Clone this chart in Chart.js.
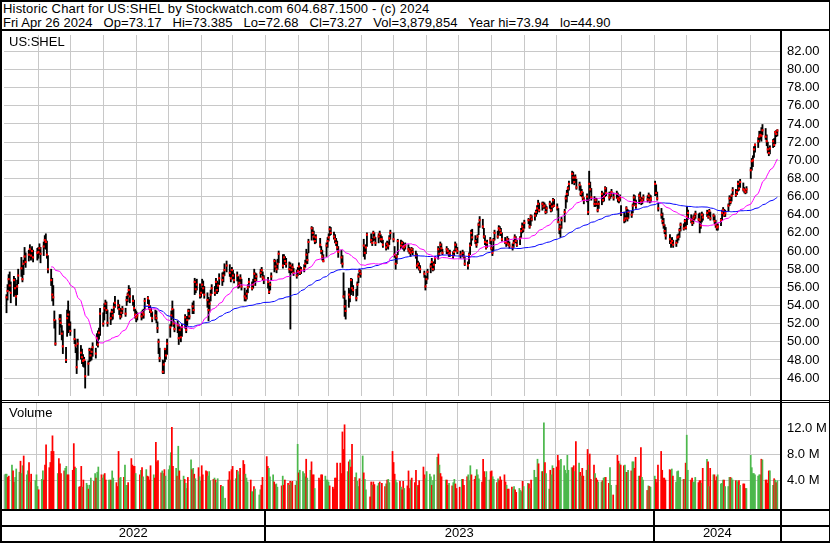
<!DOCTYPE html>
<html>
<head>
<meta charset="utf-8">
<title>US:SHEL historic chart</title>
<script src="https://cdn.jsdelivr.net/npm/chart.js"></script>
<style>
  html, body { margin: 0; padding: 0; background: #fff; }
  #wrap { position: relative; width: 830px; height: 543px; overflow: hidden;
          font-family: "Liberation Sans", Arial, sans-serif; color: #000; background: #fff; }
  #wrap canvas { position: absolute; left: 0; }
  .ln { position: absolute; background: #000; }
  .txt { position: absolute; font-size: 13px; line-height: 14px; white-space: pre; }
</style>
</head>
<body>
<div id="wrap">
  <canvas id="price" width="830" height="369" style="top:31px"></canvas>
  <canvas id="vol" width="830" height="106" style="top:403px"></canvas>
  <canvas id="years" width="830" height="31" style="top:511px"></canvas>

  <div class="txt" style="left:3px;top:2px;letter-spacing:0.18px">Historic Chart for US:SHEL by Stockwatch.com 604.687.1500 - (c) 2024</div>
  <div class="txt" style="left:3px;top:16px;letter-spacing:0.05px">Fri Apr 26 2024   Op=73.17   Hi=73.385   Lo=72.68   Cl=73.27   Vol=3,879,854   Year hi=73.94   lo=44.90</div>
  <div class="txt" style="left:9px;top:35px">US:SHEL</div>
  <div class="txt" style="left:9px;top:406px">Volume</div>

  <!-- frame -->
  <div class="ln" style="left:0;top:0;width:830px;height:2px"></div>
  <div class="ln" style="left:0;top:0;width:2px;height:543px"></div>
  <div class="ln" style="left:829px;top:0;width:1px;height:543px"></div>
  <div class="ln" style="left:0;top:29px;width:830px;height:2px"></div>
  <div class="ln" style="left:0;top:400px;width:830px;height:1px"></div>
  <div class="ln" style="left:0;top:402px;width:830px;height:1px"></div>
  <div class="ln" style="left:0;top:509px;width:830px;height:2px"></div>
  <div class="ln" style="left:0;top:525px;width:830px;height:2px"></div>
  <div class="ln" style="left:0;top:541px;width:830px;height:2px"></div>
  <div class="ln" style="left:780px;top:29px;width:2px;height:514px"></div>
</div>

<script>
// ---- data ----
const firstDay = '2022-05-02';
const lastDay = '2024-04-26';
// exchange holidays in the range (no bar on these weekdays)
const holidays = ['2022-05-30','2022-06-20','2022-07-04','2022-09-05','2022-11-24','2022-12-26',
  '2023-01-02','2023-01-16','2023-02-20','2023-04-07','2023-05-29','2023-06-19','2023-07-04',
  '2023-09-04','2023-11-23','2023-12-25','2024-01-01','2024-01-15','2024-02-19','2024-03-29'];

const years = ['2022', '2023', '2024'];
const priceTicks = [46, 48, 50, 52, 54, 56, 58, 60, 62, 64, 66, 68, 70, 72, 74, 76, 78, 80, 82];
const volTicks = [4, 8, 12];   // millions
const maShort = 30, maLong = 90;

// daily closes, one line per month
const closes = [
  54.9,55.6,56.9,56.2,55.4,56.8,55.9,55.0,56.1,57.3,58.1,56.9,58.6,59.4,58.8,59.6,60.2,59.5,60.0,59.3,59.8,
  59.9,60.3,59.7,60.5,61.2,61.0,59.6,58.0,56.8,55.2,54.9,52.4,49.8,52.5,52.1,50.9,49.5,48.0,52.6,53.0,51.9,
  51.2,50.3,49.6,47.2,49.8,48.8,48.3,47.9,48.0,46.2,47.6,49.1,48.5,48.9,49.4,48.7,50.4,49.7,51.0,53.1,
  52.0,53.7,54.2,53.5,52.1,52.6,53.3,52.9,53.8,54.3,54.0,53.6,52.8,53.2,53.6,53.1,54.6,55.2,55.7,55.0,54.5,53.7,53.0,
  52.7,52.9,52.8,53.2,53.0,54.5,54.8,54.0,53.5,53.3,52.6,52.9,52.6,51.5,50.0,48.2,46.7,47.5,49.2,48.5,49.8,
  51.6,52.9,53.6,52.0,51.4,51.8,50.4,51.3,50.5,51.6,52.7,51.3,52.4,53.4,52.8,53.9,53.5,56.6,55.8,56.3,55.1,
  55.4,56.3,55.9,55.2,54.6,53.5,54.2,55.2,55.9,55.4,56.6,55.7,56.2,57.0,56.8,57.3,57.9,58.4,57.6,57.0,57.9,
  57.3,56.8,57.3,56.2,56.5,57.0,56.1,55.0,54.8,55.3,56.0,56.6,55.9,56.3,57.5,56.8,57.2,57.6,57.9,57.1,56.9,
  56.6,55.5,56.3,57.2,58.9,58.3,58.0,58.6,59.7,58.4,59.3,58.9,58.6,58.0,58.4,57.9,58.2,57.6,57.3,57.8,
  58.3,57.6,57.9,58.1,58.6,59.6,59.0,61.0,62.5,62.0,61.6,61.1,61.5,60.7,60.0,59.4,58.9,60.6,61.1,
  61.5,62.4,62.0,61.6,61.3,60.9,60.4,59.9,59.3,58.6,55.0,53.9,53.4,55.2,54.9,56.8,55.9,55.7,54.8,56.3,57.2,57.8,57.5,
  60.6,59.8,60.4,61.8,61.2,60.9,62.0,61.5,60.9,61.6,61.9,61.3,61.3,60.7,60.4,60.8,60.6,61.4,62.0,
  61.3,59.6,58.6,59.4,61.1,60.6,60.9,60.5,60.4,60.6,60.2,60.0,59.8,60.2,59.9,59.5,58.4,58.6,58.2,58.0,57.5,56.1,
  56.9,57.7,58.3,58.8,58.0,58.5,59.2,60.2,59.7,60.7,60.3,59.8,60.2,60.0,59.7,59.8,59.5,59.9,60.7,60.2,60.0,
  59.6,59.8,59.4,58.6,58.4,59.6,60.6,62.0,61.5,61.1,60.7,61.6,62.9,63.4,62.7,61.6,61.0,60.4,60.9,61.2,
  60.3,59.8,61.2,62.0,61.6,62.5,62.3,62.0,61.3,61.0,60.9,61.3,60.8,60.6,60.4,60.9,61.5,61.1,60.7,61.4,62.2,62.7,62.4,
  63.1,63.4,62.7,63.8,63.5,63.9,64.3,64.7,65.2,64.5,65.2,64.9,65.0,64.3,64.7,65.2,64.5,64.9,65.6,65.0,
  64.8,63.2,62.4,62.7,63.4,64.3,65.8,66.3,66.9,67.4,68.5,68.1,67.6,68.1,67.0,67.3,66.3,66.5,65.9,65.6,66.0,64.3,
  67.4,66.8,65.9,65.2,65.6,65.2,64.5,65.2,66.3,65.6,66.0,66.9,66.4,65.9,66.2,66.5,65.9,66.3,65.8,65.6,65.9,
  64.2,63.4,63.6,64.7,63.6,64.3,64.0,65.0,65.9,65.4,65.0,66.1,65.8,65.4,65.6,65.9,65.7,66.1,65.6,65.8,
  67.4,66.4,65.8,64.7,64.0,63.3,62.9,62.2,61.7,61.3,60.9,61.1,60.7,60.9,61.5,61.6,62.3,62.9,62.5,63.3,62.6,
  63.8,64.2,63.4,63.1,63.6,63.8,64.1,63.5,63.4,62.8,64.0,63.7,64.2,63.8,64.4,63.6,63.9,63.3,62.9,62.6,
  62.7,63.4,64.2,64.5,64.0,64.2,65.0,65.8,65.4,66.1,66.7,66.2,66.5,67.4,66.9,67.6,66.8,66.7,66.5,66.8,
  68.9,69.9,70.0,71.2,71.7,72.1,72.6,72.8,72.7,73.3,72.6,72.1,71.2,70.8,71.3,72.1,71.7,73.1,72.9,73.27
];

const highs = [
  55.2,56.3,57.4,57.7,56.6,57.2,57.0,56.3,56.8,58.0,59.3,58.4,59.0,60.4,59.8,60.1,60.7,60.3,60.5,60.1,60.3,
  60.4,60.8,60.4,61.0,61.7,61.9,61.1,59.5,58.0,57.0,56.2,53.4,52.4,53.0,53.0,51.8,51.2,49.4,53.5,54.5,53.4,
  52.2,51.4,50.3,49.3,50.3,49.6,49.2,48.6,48.3,47.9,47.9,49.3,49.2,49.3,49.9,49.3,50.9,51.2,51.5,53.7,
  53.2,54.2,54.6,54.4,53.5,53.2,53.6,53.5,54.3,55.0,54.6,54.1,53.7,53.6,53.9,53.7,55.0,55.4,56.2,55.9,55.1,54.6,53.6,
  53.4,53.2,53.3,53.5,53.6,54.8,55.0,54.6,54.0,53.7,53.3,53.5,53.4,52.2,50.3,49.3,48.0,47.9,49.3,49.2,50.3,
  51.9,53.4,54.5,53.6,52.2,52.3,51.9,51.7,51.4,51.9,53.0,52.8,52.8,53.6,53.6,54.3,54.5,57.0,56.8,56.9,56.4,
  55.9,56.9,56.7,56.1,55.4,54.9,54.7,55.7,56.3,56.1,57.0,56.7,56.5,57.5,57.6,57.7,58.6,58.9,58.5,57.8,58.2,
  57.9,57.5,57.7,57.2,56.9,57.4,56.9,55.9,55.4,55.7,56.3,57.0,56.6,56.9,58.0,57.6,57.5,58.0,58.2,57.7,57.3,
  57.1,56.4,56.6,57.6,59.1,59.0,58.6,59.1,60.0,59.6,59.6,59.4,59.2,58.8,58.7,58.4,58.6,58.1,57.9,58.2,
  58.7,58.3,58.2,58.5,59.0,60.2,59.8,61.3,62.7,62.6,62.2,61.7,61.8,61.4,60.5,60.1,59.6,60.9,61.5,
  61.9,62.7,62.6,62.1,61.8,61.4,61.1,60.5,60.1,59.5,57.6,55.6,54.6,55.9,55.7,57.0,56.9,56.2,55.8,56.6,57.5,58.0,57.9,
  61.3,60.5,60.7,62.0,61.9,61.4,62.2,62.0,61.5,61.9,62.2,61.8,61.6,61.2,60.9,61.1,61.0,61.7,62.3,
  62.0,60.5,59.4,59.6,61.3,61.2,61.1,61.0,60.8,60.9,60.7,60.4,60.2,60.4,60.3,60.0,59.7,58.9,58.7,58.4,57.8,57.3,
  57.2,58.0,58.6,59.2,58.8,58.8,59.4,60.5,60.3,61.0,60.8,60.2,60.5,60.3,60.1,60.1,59.9,60.1,61.0,60.8,60.4,
  60.0,60.1,59.9,59.3,58.8,59.8,60.9,62.3,62.4,61.7,61.3,61.8,63.1,63.8,63.5,62.5,61.7,61.1,61.2,61.5,
  61.1,60.4,61.4,62.3,62.2,62.8,62.7,62.5,62.0,61.5,61.2,61.6,61.4,61.0,60.8,61.2,61.8,61.6,61.2,61.6,62.5,63.1,62.9,
  63.4,63.6,63.5,64.0,63.9,64.2,64.5,65.0,65.6,65.3,65.4,65.4,65.3,65.1,64.9,65.5,65.3,65.2,65.8,65.7,
  65.2,64.7,63.0,62.9,63.7,64.6,66.1,66.7,67.1,67.7,68.8,68.7,68.3,68.4,67.9,67.6,67.2,66.8,66.5,65.9,66.3,65.7,
  68.8,67.6,66.9,66.0,65.8,65.8,65.3,65.5,66.6,66.4,66.3,67.1,67.0,66.5,66.5,66.8,66.4,66.6,66.4,66.1,66.2,
  65.0,64.3,63.9,64.9,64.6,64.5,64.4,65.2,66.2,66.1,65.6,66.3,66.5,65.9,65.8,66.2,66.1,66.4,66.2,66.1,
  67.7,67.3,66.5,65.3,64.7,64.2,63.6,62.9,62.6,61.8,61.4,61.5,61.2,61.2,61.8,61.9,62.5,63.1,63.0,63.5,63.4,
  64.9,64.5,64.0,63.6,63.9,64.1,64.4,64.1,64.2,63.4,64.3,64.1,64.5,64.3,64.6,64.3,64.1,63.9,63.4,63.0,
  63.0,63.6,64.5,64.8,64.6,64.5,65.2,66.1,66.0,66.3,67.0,66.8,66.7,67.7,67.5,67.9,67.5,67.0,66.8,67.1,
  69.2,70.2,70.5,71.5,71.8,72.5,73.2,73.2,73.6,73.94,73.5,72.8,72.0,71.4,71.6,72.3,72.4,73.2,73.3,73.385
];

const lows = [
  53.2,54.6,55.7,55.6,54.3,55.0,55.2,54.0,55.2,56.4,57.2,56.6,57.4,58.5,58.2,58.9,59.3,59.0,59.2,58.8,59.0,
  59.2,59.6,58.7,59.5,60.3,60.2,59.2,57.6,56.2,54.5,54.0,51.5,49.6,50.8,51.6,50.2,48.7,47.7,50.6,51.0,51.3,
  50.7,49.8,48.8,46.5,48.0,48.1,47.6,47.3,47.2,44.9,46.3,47.8,47.9,48.0,48.4,48.2,49.6,49.4,50.3,50.7,
  51.7,52.4,53.4,53.1,51.7,51.9,52.4,52.5,53.2,53.8,53.6,53.0,52.5,52.7,53.1,52.8,54.0,54.4,55.0,54.3,54.0,53.4,52.6,
  52.2,52.4,52.4,52.6,52.6,53.5,54.2,53.6,53.2,52.8,52.2,52.4,52.1,51.0,48.7,47.8,46.5,46.5,47.8,48.1,48.6,
  50.5,51.7,52.6,51.7,51.1,51.0,49.7,50.4,50.0,50.6,51.5,51.0,51.8,52.5,52.5,53.1,53.1,55.2,55.4,55.7,54.8,
  54.9,55.4,55.3,54.8,53.8,52.3,53.4,54.5,55.3,55.1,55.8,55.3,55.5,56.3,56.2,56.6,57.3,57.7,57.2,56.6,57.2,
  56.9,56.5,56.7,55.9,56.0,56.4,55.7,54.5,54.5,54.7,55.4,56.0,55.7,55.9,56.6,56.2,56.7,57.1,57.4,56.8,56.4,
  55.9,55.3,55.7,56.8,57.7,58.0,57.6,58.0,58.7,58.1,58.5,58.5,58.2,57.6,51.4,57.6,57.7,57.3,57.0,57.3,
  57.7,57.4,57.5,57.7,58.2,58.6,58.6,59.8,61.2,61.7,61.2,60.8,60.9,60.4,59.7,59.0,58.8,59.4,60.4,
  61.1,61.7,61.8,61.3,60.9,60.6,60.1,59.3,58.6,58.2,54.8,52.8,52.5,53.8,54.4,55.2,55.5,55.1,54.5,55.1,56.5,57.3,57.1,
  59.4,59.1,59.7,60.5,60.9,60.6,61.1,61.2,60.6,60.9,61.4,61.0,60.9,60.4,60.1,60.3,60.2,60.7,61.3,
  61.0,59.3,58.0,58.6,59.6,60.3,60.4,60.2,60.0,60.2,59.9,59.7,59.4,59.8,59.6,59.2,58.1,58.2,57.9,57.6,57.1,55.7,
  56.4,56.9,57.6,58.2,57.8,57.9,58.6,59.1,59.5,59.9,60.0,59.6,59.7,59.7,59.4,59.4,59.2,59.5,60.0,60.0,59.7,
  59.2,59.4,59.2,58.4,58.0,58.6,59.6,60.6,61.2,60.8,60.4,60.9,61.8,62.6,62.5,61.4,60.7,60.2,60.4,60.8,
  60.1,59.5,60.0,61.2,61.4,61.7,62.0,61.7,61.1,60.8,60.5,60.8,60.6,60.3,60.1,60.4,60.9,60.9,60.5,60.7,61.5,62.0,62.1,
  62.5,63.0,62.5,62.8,63.3,63.4,63.8,64.1,64.6,64.3,64.5,64.7,64.7,64.1,64.2,64.7,64.3,64.4,64.8,64.9,
  64.5,63.1,61.9,61.5,62.5,63.2,64.7,65.4,66.1,66.7,67.4,67.7,67.3,67.5,66.8,66.7,66.1,66.0,65.6,65.2,65.4,64.0,
  65.6,66.5,65.6,64.9,64.9,65.0,64.3,64.7,65.1,65.4,65.5,66.0,66.1,65.6,65.8,66.0,65.6,65.8,65.4,65.3,65.5,
  63.9,63.1,63.2,63.5,63.3,63.6,63.7,64.2,65.0,65.2,64.7,65.2,65.6,65.1,65.2,65.5,65.4,65.6,65.3,65.4,
  66.1,66.2,65.6,64.4,63.6,63.0,62.5,61.9,61.3,60.8,60.4,60.6,60.4,60.5,60.9,61.2,61.5,62.2,62.3,62.5,62.4,
  62.9,63.5,63.1,62.8,63.0,63.4,63.6,63.3,62.0,62.5,63.2,63.4,63.8,63.6,63.9,63.4,63.4,63.0,62.6,62.3,
  62.3,62.8,63.4,64.0,63.8,63.8,64.4,65.0,65.2,65.5,66.2,66.0,66.2,66.6,66.7,67.0,66.6,66.4,66.3,66.4,
  68.0,68.9,69.3,70.3,70.9,71.4,72.0,72.3,72.1,72.8,72.3,71.6,70.8,70.5,70.7,71.4,71.5,71.8,72.6,72.68
];

// daily volume, millions of shares
const volumes = [
  4.8,4.9,4.9,4.4,4.6,6.3,5.4,3.7,4.4,5.7,5.2,6.9,5.0,6.2,7.7,4.8,5.4,6.7,3.7,4.9,3.9,
  4.8,3.0,2.5,4.1,5.4,4.0,6.3,9.4,5.9,6.7,8.4,10.8,8.4,5.0,7.3,6.5,5.0,5.4,5.8,6.1,4.8,
  4.8,5.5,9.6,6.0,5.8,2.9,3.0,6.1,2.9,4.0,3.5,3.2,2.6,3.2,4.3,3.8,5.0,4.3,5.2,6.0,
  4.8,4.3,4.8,5.0,4.0,4.0,4.0,4.0,5.4,4.3,3.6,3.0,8.4,4.3,4.4,4.4,6.3,3.2,3.2,3.6,7.3,6.3,6.1,
  6.1,5.0,4.8,5.5,5.9,4.5,5.6,4.6,4.5,4.0,6.2,4.8,4.3,9.8,6.8,7.0,5.1,5.4,5.0,5.6,4.6,
  5.6,6.2,8.2,12.1,6.1,5.8,4.6,9.2,5.4,4.0,4.6,4.1,3.5,2.7,4.4,7.1,5.6,5.8,4.9,4.2,5.9,
  4.5,3.8,6.2,4.8,5.4,5.3,4.6,5.3,3.9,4.1,4.3,4.0,3.6,4.2,3.2,3.0,3.0,1.2,4.0,5.3,4.0,
  5.6,6.1,4.2,5.5,5.3,4.8,5.8,7.0,6.4,4.9,4.3,3.7,4.0,2.2,2.2,3.0,2.6,1.7,2.5,3.2,4.4,
  7.6,6.1,5.8,4.5,4.8,3.7,3.3,3.4,2.9,3.1,4.6,3.2,4.0,3.5,3.2,3.8,3.6,3.8,3.2,3.8,
  9.5,5.1,5.5,5.3,5.0,4.5,7.2,4.3,5.5,6.8,4.8,4.8,2.7,4.3,4.0,4.8,4.8,4.6,4.0,
  4.0,3.7,3.1,2.9,2.6,4.3,4.3,6.6,6.6,5.0,11.4,8.7,12.5,5.3,6.8,7.1,6.0,9.5,4.4,5.1,3.8,3.0,4.2,
  7.7,5.1,4.1,2.5,1.4,3.7,3.2,3.7,3.3,3.1,3.5,3.7,3.4,3.5,3.0,3.4,4.0,4.1,3.6,
  8.4,6.7,4.9,4.0,3.6,3.8,2.9,2.5,3.8,2.7,3.1,5.4,2.7,4.0,4.3,3.6,5.5,3.0,3.2,3.9,6.0,4.8,
  4.2,5.3,4.9,4.5,3.2,3.9,4.8,7.5,8.0,6.3,5.0,4.5,4.0,4.0,3.2,3.5,3.1,3.6,4.1,3.4,2.7,
  2.9,4.1,4.1,3.2,4.5,4.8,3.9,6.2,4.8,4.1,4.6,5.6,4.8,4.2,3.7,7.2,5.3,4.4,5.3,4.0,
  5.3,5.4,4.5,4.1,3.6,4.2,3.9,4.5,4.0,4.8,3.7,3.2,2.6,2.6,2.9,2.6,3.0,2.5,2.1,2.7,2.4,2.2,3.8,
  3.0,3.5,3.4,2.7,4.0,5.5,4.4,4.4,7.2,6.5,5.3,5.3,12.8,6.7,5.0,2.6,5.5,4.8,6.2,5.8,
  6.0,7.8,7.0,5.5,7.2,6.2,5.5,5.0,7.8,5.5,5.9,5.9,6.2,5.3,9.9,6.6,5.2,4.6,5.8,4.6,5.5,8.7,
  6.3,8.0,4.1,6.3,5.0,4.3,4.0,3.7,3.7,3.9,4.3,4.4,4.4,3.5,5.9,3.2,1.7,3.2,7.8,6.9,6.5,
  6.3,6.2,6.3,5.2,5.2,5.5,5.4,6.8,6.8,5.8,7.5,4.6,4.6,9.0,4.4,4.0,2.4,3.1,3.0,2.9,
  4.6,4.1,3.6,6.3,8.4,5.5,4.3,4.3,4.0,5.6,5.5,5.7,4.6,3.7,5.3,5.4,4.4,4.4,4.1,4.1,6.6,
  10.9,5.5,4.0,4.3,3.7,3.7,4.4,3.6,3.9,3.9,3.5,5.8,7.2,6.8,3.0,5.8,4.8,4.8,3.9,4.5,
  4.8,3.4,3.5,4.0,4.0,3.0,3.0,4.4,4.4,4.3,4.0,3.9,3.9,3.7,3.9,3.2,3.4,3.4,2.7,2.7,
  7.8,5.9,5.0,5.0,4.8,4.6,4.8,4.8,7.2,7.1,4.0,4.0,3.5,5.4,5.4,3.2,4.2,4.0,3.6,3.88
];

// ---- styling ----
const FONT = '"Liberation Sans", Arial, sans-serif';
const GRID = '#c8c8c8';
const UP = '#4cb84c', DOWN = '#ff0000', FLAT = '#a8a8a8';
const X_MIN = -2.35, X_MAX = 728.43;     // calendar days from firstDay
const P_MIN = 44.03, P_MAX = 83.8;
const V_MIN = -0.46, V_MAX = 15.85;

// ---- calendar: trading days as calendar-day offsets ----
const DAY = 86400000;
const t0 = Date.parse(firstDay + 'T00:00:00Z');
const t1 = Date.parse(lastDay + 'T00:00:00Z');
const holidaySet = new Set(holidays);
const days = [];
const monthLines = [];
const yearLines = [];
for (let t = t0; t <= t1; t += DAY) {
  const d = new Date(t);
  const off = Math.round((t - t0) / DAY);
  if (d.getUTCDate() === 1) {
    monthLines.push(off);
    if (d.getUTCMonth() === 0) yearLines.push(off);
  }
  const wd = d.getUTCDay();
  if (wd === 0 || wd === 6 || holidaySet.has(d.toISOString().slice(0, 10))) continue;
  days.push(off);
}
console.log('days', days.length, closes.length, highs.length, lows.length, volumes.length);

function movingAvg(n) {
  const out = [];
  let sum = 0;
  for (let i = 0; i < closes.length; i++) {
    sum += closes[i];
    if (i >= n) sum -= closes[i - n];
    if (i >= n - 1) out.push({ x: days[i], y: sum / n });
  }
  return out;
}

const volColors = closes.map((c, i) => {
  if (i === 0) return FLAT;
  return c > closes[i - 1] ? UP : (c < closes[i - 1] ? DOWN : FLAT);
});

function monthAxis() {
  return {
    type: 'linear', min: X_MIN, max: X_MAX, offset: false,
    afterBuildTicks: s => { s.ticks = monthLines.map(v => ({ value: v })); },
    ticks: { display: false },
    grid: { color: GRID, lineWidth: 1, drawTicks: false, offset: false },
    border: { display: false },
    afterFit: s => { s.height = 0; s.paddingLeft = 0; s.paddingRight = 0; }
  };
}

const common = {
  responsive: false, animation: false, events: [], devicePixelRatio: 1,
  plugins: { legend: { display: false }, tooltip: { enabled: false } }
};

// ---- price panel ----
new Chart(document.getElementById('price'), {
  type: 'bar',
  data: {
    datasets: [
      { type: 'line', data: movingAvg(maShort), borderColor: '#ff00ff', borderWidth: 1,
        pointRadius: 0, order: 1 },
      { type: 'line', data: movingAvg(maLong), borderColor: '#0000ff', borderWidth: 1,
        pointRadius: 0, order: 2 },
      { type: 'line', data: days.map((d, i) => ({ x: d, y: closes[i] })), showLine: false,
        pointStyle: 'rect', pointRadius: 1.5, pointBackgroundColor: '#ff0000', pointBorderWidth: 0, order: 3 },
      { type: 'bar', data: days.map((d, i) => ({ x: d, y: [lows[i], highs[i]] })),
        backgroundColor: '#000', barThickness: 1.2, grouped: false, order: 4 }
    ]
  },
  options: Object.assign({}, common, {
    layout: { padding: { left: 2, top: 0, right: 0, bottom: 0 } },
    scales: {
      x: monthAxis(),
      y: {
        position: 'right', min: P_MIN, max: P_MAX,
        afterBuildTicks: s => { s.ticks = priceTicks.map(v => ({ value: v })); },
        ticks: { callback: v => v.toFixed(2), color: '#000', font: { family: FONT, size: 13 }, padding: 6, autoSkip: false },
        grid: { color: GRID, drawTicks: false },
        border: { display: true, color: '#000', width: 2 },
        afterFit: s => { s.width = 49; s.paddingTop = 0; s.paddingBottom = 0; }
      }
    }
  })
});

// ---- volume panel ----
new Chart(document.getElementById('vol'), {
  type: 'bar',
  data: {
    datasets: [{
      data: days.map((d, i) => ({ x: d, y: volumes[i] })),
      backgroundColor: volColors, base: V_MIN,
      barPercentage: 1, categoryPercentage: 1
    }]
  },
  options: Object.assign({}, common, {
    layout: { padding: { left: 2, top: 0, right: 0, bottom: 0 } },
    scales: {
      x: monthAxis(),
      y: {
        position: 'right', min: V_MIN, max: V_MAX,
        afterBuildTicks: s => { s.ticks = volTicks.map(v => ({ value: v })); },
        ticks: { callback: v => v.toFixed(1) + ' M', color: '#000', font: { family: FONT, size: 13 }, padding: 6, autoSkip: false },
        grid: { color: GRID, drawTicks: false },
        border: { display: true, color: '#000', width: 2 },
        afterFit: s => { s.width = 49; s.paddingTop = 0; s.paddingBottom = 0; }
      }
    }
  })
});

// ---- year band ----
const yearEdges = [X_MIN].concat(yearLines, [X_MAX]);
const yearCenters = years.map((y, k) => (yearEdges[k] + yearEdges[k + 1]) / 2);
const bandTicks = yearLines.concat(yearCenters).sort((a, b) => a - b);
const isEdge = ctx => ctx.tick && yearLines.includes(ctx.tick.value);

new Chart(document.getElementById('years'), {
  type: 'bar',
  data: { datasets: [] },
  options: Object.assign({}, common, {
    layout: { padding: { left: 2, top: 0, right: 49, bottom: 0 } },
    scales: {
      x: {
        type: 'linear', min: X_MIN, max: X_MAX, offset: false,
        afterBuildTicks: s => { s.ticks = bandTicks.map(v => ({ value: v })); },
        ticks: {
          autoSkip: false, maxRotation: 0, padding: -16, color: '#000',
          font: { family: FONT, size: 13 },
          callback: v => { const k = yearCenters.indexOf(v); return k >= 0 ? years[k] : ''; }
        },
        grid: {
          offset: false,
          color: ctx => isEdge(ctx) ? '#000' : 'rgba(0,0,0,0)',
          tickColor: ctx => isEdge(ctx) ? '#000' : 'rgba(0,0,0,0)',
          lineWidth: 2, tickWidth: 2, drawTicks: true, tickLength: 16
        },
        border: { display: true, color: '#000', width: 2 },
        afterFit: s => { s.height = 16; s.paddingLeft = 0; s.paddingRight = 0; }
      },
      y: { display: false }
    }
  })
});
</script>
</body>
</html>
